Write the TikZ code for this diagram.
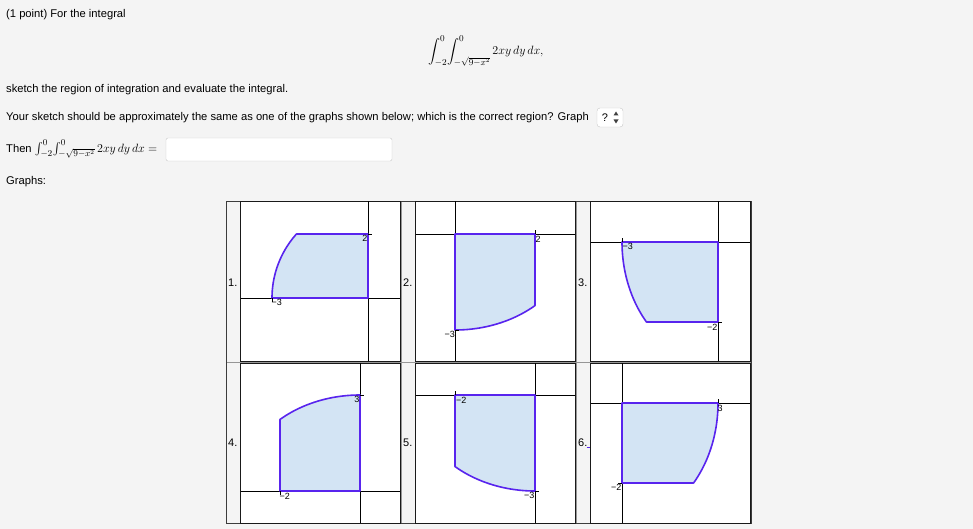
\documentclass[tikz,border=0pt]{standalone}
\usepackage{fontspec}
\setmainfont{Liberation Sans}
\usepackage{amsmath}
\definecolor{pagebg}{RGB}{244,244,244}
\definecolor{regfill}{RGB}{211,228,244}
\definecolor{regline}{RGB}{88,36,238}
\definecolor{fieldgray}{RGB}{200,200,200}
\definecolor{tabledark}{RGB}{60,60,60}
\definecolor{tablegray}{RGB}{150,150,150}
\tikzset{
  txt/.style={inner sep=0pt, anchor=base west, font=\fontsize{11.2}{13}\selectfont},
  gbox/.style={draw=black!90, line width=1pt, fill=white},
  axisline/.style={draw=black, line width=0.9pt},
  region/.style={draw=regline, line width=1.6pt, fill=regfill, line join=round},
  tickmark/.style={draw=black, line width=0.8pt},
  tlab/.style={inner sep=0pt, font=\fontsize{9}{10}\selectfont},
  clab/.style={inner sep=0pt, anchor=west, font=\fontsize{11}{13}\selectfont},
}
\begin{document}
\begin{tikzpicture}[x=1pt,y=-1pt]
\useasboundingbox (0,0) rectangle (973,529);
\fill[pagebg] (0,0) rectangle (973,529);

% ---------- text ----------
\node[txt] (t1) at (6,17.5) {(1 point) For the integral};
\node[txt,font=\fontsize{13}{15}\selectfont] (intg) at (428,54.5)
  {$\displaystyle\int_{-2}^{0}\!\int_{-\sqrt{9-x^2}}^{0} 2xy\,dy\,dx,$};
\node[txt] (t2) at (6,92.5) {sketch the region of integration and evaluate the integral.};
\node[txt] (t3) at (6,120.5) {Your sketch should be approximately the same as one of the graphs shown below; which is the correct region? Graph};
\node[draw=fieldgray, fill=white, rounded corners=3pt, minimum width=26pt, minimum height=19pt, inner sep=0pt] (dd) at (610,117.5) {};
\node[inner sep=0pt, font=\fontsize{11}{13}\selectfont] (ddq) at (605,117.5) {?};
\fill[black!75] (613.5,115.5) -- (618.5,115.5) -- (616,111.5) -- cycle;
\fill[black!75] (613.5,119.5) -- (618.5,119.5) -- (616,123.5) -- cycle;
\node[txt] (t4) at (6,152.5) {Then {\fontsize{12.5}{14}\selectfont$\int_{-2}^{0}\!\int_{-\sqrt{9-x^2}}^{0} 2xy\,dy\,dx =$}};
\node[draw=fieldgray, fill=white, rounded corners=2pt, minimum width=226pt, minimum height=23pt, inner sep=0pt] (ans) at (279,149.5) {};
\node[txt] (t5) at (6,185) {Graphs:};

% ---------- table ----------
\draw[tablegray, line width=0.8pt] (401.5,201.5) -- (401.5,523.5);
\draw[tablegray, line width=0.8pt] (576.5,201.5) -- (576.5,523.5);
\draw[tablegray, line width=0.8pt] (226.5,362) -- (751.5,362);
\draw[tabledark, line width=0.9pt] (226.5,201.5) rectangle (751.5,523.5);

% cell labels
\node[clab] (l1) at (228,283) {1.};
\node[clab] (l2) at (403,283) {2.};
\node[clab] (l3) at (578,283) {3.};
\node[clab] (l4) at (228,443) {4.};
\node[clab] (l5) at (403,443) {5.};
\node[clab] (l6) at (578,443) {6.};
\draw[regline, line width=0.7pt] (586.5,447.5) -- (590,447.5);

% ---------- graph 1 ----------
\draw[gbox] (240.5,201.5) rectangle (400,361);
\draw[axisline] (368,201.5) -- (368,361);
\draw[axisline] (240.5,298) -- (400,298);
\begin{scope}[shift={(368,298)},x=32pt,y=32pt]
  \draw[region] plot[domain=0:2,samples=40] ({-sqrt(9-(\x)^2)},{\x}) -- (0,2) -- (0,0) -- cycle;
\end{scope}
\draw[tickmark] (368,234) -- (372,234);
\draw[tickmark] (272,298) -- (272,302);
\node[tlab, anchor=north east] (g1a) at (367.5,235.5) {2};
\node[tlab, anchor=north west] (g1b) at (271.5,299.5) {−3};

% ---------- graph 2 ----------
\draw[gbox] (415.5,201.5) rectangle (575,361);
\draw[axisline] (455,201.5) -- (455,361);
\draw[axisline] (415.5,234) -- (575,234);
\begin{scope}[shift={(455,234)},x=40pt,y=32pt]
  \draw[region] (0,0) -- (2,0) -- plot[domain=2:0,samples=40] ({\x},{-sqrt(9-(\x)^2)}) -- cycle;
\end{scope}
\draw[tickmark] (535,234) -- (535,230);
\draw[tickmark] (455,330) -- (459,330);
\node[tlab, anchor=north west] (g2a) at (535.5,236) {2};
\node[tlab, anchor=north east] (g2b) at (455,331.5) {−3};

% ---------- graph 3 ----------
\draw[gbox] (590.5,201.5) rectangle (750,361);
\draw[axisline] (718,201.5) -- (718,361);
\draw[axisline] (590.5,242) -- (750,242);
\begin{scope}[shift={(718,242)},x=32pt,y=40pt]
  \draw[region] plot[domain=0:-2,samples=40] ({-sqrt(9-(\x)^2)},{\x}) -- (0,-2) -- (0,0) -- cycle;
\end{scope}
\draw[tickmark] (622,242) -- (622,238);
\draw[tickmark] (718,322) -- (722,322);
\node[tlab, anchor=north west] (g3a) at (622.5,243.5) {−3};
\node[tlab, anchor=north east] (g3b) at (717.5,324) {−2};

% ---------- graph 4 ----------
\draw[gbox] (240.5,363) rectangle (400,523);
\draw[axisline] (360,363) -- (360,523);
\draw[axisline] (240.5,491) -- (400,491);
\begin{scope}[shift={(360,491)},x=40pt,y=32pt]
  \draw[region] (0,0) -- (-2,0) -- plot[domain=-2:0,samples=40] ({\x},{sqrt(9-(\x)^2)}) -- cycle;
\end{scope}
\draw[tickmark] (360,395) -- (364,395);
\draw[tickmark] (280,491) -- (280,495);
\node[tlab, anchor=north east] (g4a) at (359.5,396.5) {3};
\node[tlab, anchor=north west] (g4b) at (279.5,493) {−2};

% ---------- graph 5 ----------
\draw[gbox] (415.5,363) rectangle (575,523);
\draw[axisline] (535,363) -- (535,523);
\draw[axisline] (415.5,395) -- (575,395);
\begin{scope}[shift={(535,395)},x=40pt,y=32pt]
  \draw[region] (-2,0) -- (0,0) -- plot[domain=0:-2,samples=40] ({\x},{-sqrt(9-(\x)^2)}) -- cycle;
\end{scope}
\draw[tickmark] (455,395) -- (455,391);
\draw[tickmark] (535,491) -- (539,491);
\node[tlab, anchor=north west] (g5a) at (456,397) {−2};
\node[tlab, anchor=north east] (g5b) at (534.5,492.5) {−3};

% ---------- graph 6 ----------
\draw[gbox] (590.5,363) rectangle (750,523);
\draw[axisline] (622,363) -- (622,523);
\draw[axisline] (590.5,403) -- (750,403);
\begin{scope}[shift={(622,403)},x=32pt,y=40pt]
  \draw[region] (0,0) -- (3,0) -- plot[domain=0:-2,samples=40] ({sqrt(9-(\x)^2)},{\x}) -- (0,-2) -- cycle;
\end{scope}
\draw[tickmark] (718,403) -- (718,399);
\draw[tickmark] (622,483) -- (618,483);
\node[tlab, anchor=north west] (g6a) at (717.5,405) {3};
\node[tlab, anchor=north east] (g6b) at (621.5,484.5) {−2};
\end{tikzpicture}
\end{document}
